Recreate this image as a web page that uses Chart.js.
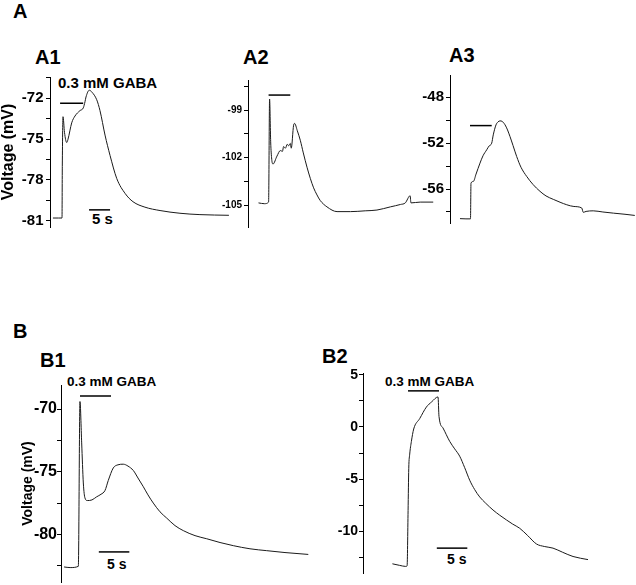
<!DOCTYPE html>
<html>
<head>
<meta charset="utf-8">
<script src="https://cdn.jsdelivr.net/npm/chart.js@4.4.0/dist/chart.umd.min.js"></script>
<style>
  html, body { margin: 0; padding: 0; background: #fff; }
  #fig { position: relative; width: 636px; height: 585px; overflow: hidden;
         font-family: Arial, "Liberation Sans", sans-serif; font-weight: bold; color: #000; }
  #fig canvas { position: absolute; }
  .lbl { position: absolute; line-height: 1; white-space: nowrap; }
</style>
</head>
<body>
<div id="fig">
  <div class="lbl" style="left:13px; top:1px; font-size:20px">A</div>
  <div class="lbl" style="left:35px; top:47px; font-size:20px">A1</div>
  <div class="lbl" style="left:243px; top:46.6px; font-size:20px">A2</div>
  <div class="lbl" style="left:449px; top:45px; font-size:20px">A3</div>
  <div class="lbl" style="left:13px; top:321px; font-size:20px">B</div>
  <div class="lbl" style="left:40px; top:350px; font-size:20px">B1</div>
  <div class="lbl" style="left:322px; top:346px; font-size:20px">B2</div>

  <div class="lbl" style="left:58px; top:74.8px; font-size:15px">0.3 mM GABA</div>
  <div class="lbl" style="left:67px; top:375.3px; font-size:13.5px">0.3 mM GABA</div>
  <div class="lbl" style="left:385px; top:374.6px; font-size:13.5px">0.3 mM GABA</div>

  <div class="lbl" style="left:92px; top:211.3px; font-size:15px">5 s</div>
  <div class="lbl" style="left:107px; top:556.5px; font-size:14px">5 s</div>
  <div class="lbl" style="left:447px; top:552.2px; font-size:14px">5 s</div>
</div>
<script>
// --- dados (tempo em s, voltagem em mV) ---

// A1
const a1Time = [0.7, 2.0, 2.86, 2.93, 3.1, 3.45, 3.98, 4.29, 5.17, 5.95, 7.14, 7.93, 8.33, 8.57, 9.36, 10.0, 11.12, 11.9, 13.1, 14.3, 15.9, 17.9, 19.76, 22.6, 26.2, 30.95, 35.7, 42.6];
const a1Volt = [-80.8, -80.8, -80.8, -77.0, -73.35, -74.5, -75.25, -75.0, -73.8, -73.3, -72.9, -72.7, -72.25, -71.9, -71.4, -71.55, -72.1, -72.9, -74.7, -76.2, -77.9, -79.0, -79.6, -80.0, -80.25, -80.45, -80.55, -80.6];
const a1Gaba = [2.4, 7.9];
const a1GabaLevel = -72.36;
const a1Scale = [9.3, 14.3];
const a1ScaleLevel = -80.2;

// A2
const a2Time = [2.5, 3.9, 4.9, 5.14, 5.4, 5.65, 5.95, 6.9, 7.7, 8.2, 8.48, 8.9, 9.36, 9.7, 10.07, 10.3, 10.86, 11.1, 11.74, 12.45, 13.17, 14.05, 14.83, 15.62, 16.43, 17.2, 18.8, 21.2, 24.4, 27.9, 30.7, 33.9, 36.3, 37.45, 38.6, 38.8, 41.0, 44.1];
const a2Volt = [-104.85, -104.9, -104.8, -98.3, -101.0, -102.1, -102.4, -101.9, -101.55, -101.6, -101.3, -101.4, -101.15, -101.25, -101.1, -101.4, -99.95, -99.84, -100.3, -100.9, -101.7, -102.6, -103.3, -103.9, -104.35, -104.7, -105.1, -105.4, -105.4, -105.35, -105.3, -105.1, -104.95, -104.85, -104.4, -104.85, -104.8, -104.8];
const a2Gaba = [4.9, 10.07];
const a2GabaLevel = -98.05;

// A3
const a3Time = [2.38, 3.8, 4.88, 5.0, 5.55, 6.2, 7.14, 7.86, 8.74, 9.3, 9.93, 10.3, 10.95, 11.43, 11.9, 12.4, 13.1, 13.7, 14.29, 15.0, 15.88, 16.9, 18.26, 19.76, 21.43, 22.86, 24.6, 26.2, 27.8, 29.5, 31.36, 31.74, 32.4, 34.1, 36.4, 38.9, 41.67, 44.0];
const a3Volt = [-58.58, -58.6, -58.6, -55.48, -55.34, -54.7, -53.74, -53.1, -52.58, -52.25, -52.0, -51.28, -50.41, -50.15, -50.06, -50.1, -50.4, -50.85, -51.43, -52.2, -53.17, -54.1, -54.9, -55.6, -56.2, -56.6, -56.9, -57.15, -57.37, -57.52, -57.65, -58.03, -57.95, -57.9, -58.0, -58.1, -58.2, -58.3];
const a3Gaba = [4.76, 9.93];
const a3GabaLevel = -50.47;

// B1
const b1Time = [0.5, 1.5, 2.84, 3.11, 3.39, 3.66, 3.93, 4.31, 5.08, 5.85, 6.56, 7.21, 7.75, 8.57, 9.34, 10.21, 10.98, 11.85, 12.62, 13.5, 14.26, 15.13, 16.23, 17.33, 18.69, 20.05, 21.97, 23.89, 26.07, 28.25, 30.98, 33.72, 36.72, 40.54];
const b1Volt = [-82.6, -82.65, -82.55, -69.4, -72.7, -75.9, -77.1, -77.3, -77.25, -77.0, -76.8, -76.5, -75.7, -74.7, -74.45, -74.4, -74.55, -74.9, -75.5, -76.2, -76.85, -77.5, -78.2, -78.7, -79.3, -79.7, -80.1, -80.35, -80.65, -80.9, -81.15, -81.3, -81.45, -81.6];
const b1Gaba = [3.11, 8.2];
const b1GabaLevel = -68.96;
const b1Scale = [6.2, 11.2];
const b1ScaleLevel = -81.4;

// B2
const b2Time = [4.82, 6.0, 7.0, 7.23, 7.39, 7.5, 7.66, 7.93, 8.31, 9.3, 10.39, 11.26, 12.3, 12.46, 13.11, 14.21, 15.03, 15.85, 16.67, 17.49, 18.31, 19.13, 20.11, 21.31, 22.41, 23.51, 24.54, 25.69, 27.0, 28.43, 29.79, 31.15, 32.74, 34.43, 36.89];
const b2Volt = [-13.1, -13.25, -13.35, -13.3, -8.0, -4.0, -2.6, -1.4, -0.2, 0.8, 1.9, 2.4, 2.87, 1.0, -0.1, -1.38, -2.1, -2.8, -3.9, -5.1, -6.0, -6.7, -7.3, -7.95, -8.45, -8.9, -9.3, -9.7, -10.4, -11.2, -11.45, -11.6, -12.0, -12.4, -12.7];
const b2Gaba = [7.38, 12.46];
const b2GabaLevel = 3.45;
const b2Scale = [12.1, 17.1];
const b2ScaleLevel = -11.6;

const FONT = 'Arial, "Liberation Sans", sans-serif';
const fig = document.getElementById('fig');

function pts(xs, ys) {
  return xs.map((x, i) => ({ x: x, y: ys[i] }));
}
function bar(span, level) {
  return { data: [{ x: span[0], y: level }, { x: span[1], y: level }], borderColor: '#000', borderWidth: 1.5 };
}
function isMajor(v, major) {
  const r = v / major;
  return Math.abs(r - Math.round(r)) < 1e-6;
}

function makePanel(p) {
  const PAD = 12;
  const W = 54;
  const left = p.axisX - W;
  const top = p.axisTop - PAD;
  const cv = document.createElement('canvas');
  cv.width = p.right - left;
  cv.height = p.axisBottom - p.axisTop + 2 * PAD;
  cv.style.left = left + 'px';
  cv.style.top = top + 'px';
  fig.appendChild(cv);

  const datasets = [{
    data: pts(p.time, p.volt),
    borderColor: '#1a1a1a',
    borderWidth: 1,
    cubicInterpolationMode: 'monotone'
  }];
  p.bars.forEach(b => datasets.push(bar(b[0], b[1])));

  new Chart(cv, {
    type: 'line',
    data: { datasets: datasets },
    options: {
      responsive: false,
      animation: false,
      layout: { padding: { top: PAD, bottom: PAD, left: 0, right: 0 } },
      plugins: { legend: { display: false }, tooltip: { enabled: false } },
      elements: { point: { radius: 0 } },
      scales: {
        x: { type: 'linear', display: false, min: 0, max: (p.right - p.axisX) / p.pxPerSec },
        y: {
          type: 'linear',
          min: p.yMin,
          max: p.yMax,
          afterFit(s) { s.width = W; },
          border: { display: true, color: '#000', width: 1 },
          grid: { drawOnChartArea: false, drawTicks: true, tickLength: 4, color: '#000' },
          ticks: {
            stepSize: p.step,
            autoSkip: false,
            includeBounds: false,
            color: '#000',
            padding: p.tickPad,
            font: { family: FONT, size: p.tickSize, weight: 'bold' },
            callback: v => isMajor(v, p.major) ? String(Math.round(v)) : ''
          },
          title: p.titleSize ? {
            display: true,
            text: 'Voltage (mV)',
            color: '#000',
            font: { family: FONT, size: p.titleSize, weight: 'bold' },
            padding: { top: p.titlePad, bottom: 0 }
          } : { display: false }
        }
      }
    }
  });
}

makePanel({ time: a1Time, volt: a1Volt, bars: [[a1Gaba, a1GabaLevel], [a1Scale, a1ScaleLevel]],
  axisX: 50, axisTop: 77, axisBottom: 227, right: 240, pxPerSec: 4.2,
  yMin: -81.46, yMax: -70.43, step: 1.5, major: 3, tickSize: 15, tickPad: 2.5,
  titleSize: 16, titlePad: 2.7 });

makePanel({ time: a2Time, volt: a2Volt, bars: [[a2Gaba, a2GabaLevel]],
  axisX: 248, axisTop: 80, axisBottom: 227, right: 440, pxPerSec: 4.2,
  yMin: -106.37, yMax: -97.1, step: 1.5, major: 3, tickSize: 10, tickPad: 2 });

makePanel({ time: a3Time, volt: a3Volt, bars: [[a3Gaba, a3GabaLevel]],
  axisX: 450, axisTop: 75, axisBottom: 223, right: 636, pxPerSec: 4.2,
  yMin: -58.96, yMax: -46.06, step: 2, major: 4, tickSize: 15, tickPad: 2 });

makePanel({ time: b1Time, volt: b1Volt, bars: [[b1Gaba, b1GabaLevel], [b1Scale, b1ScaleLevel]],
  axisX: 61, axisTop: 385, axisBottom: 582, right: 320, pxPerSec: 6.1,
  yMin: -83.8, yMax: -68.08, step: 2.5, major: 5, tickSize: 16, tickPad: 0,
  titleSize: 14, titlePad: 12.9 });

makePanel({ time: b2Time, volt: b2Volt, bars: [[b2Gaba, b2GabaLevel], [b2Scale, b2ScaleLevel]],
  axisX: 363, axisTop: 373, axisBottom: 573, right: 636, pxPerSec: 6.1,
  yMin: -13.98, yMax: 5.16, step: 2.5, major: 5, tickSize: 14, tickPad: 1 });
</script>
</body>
</html>
